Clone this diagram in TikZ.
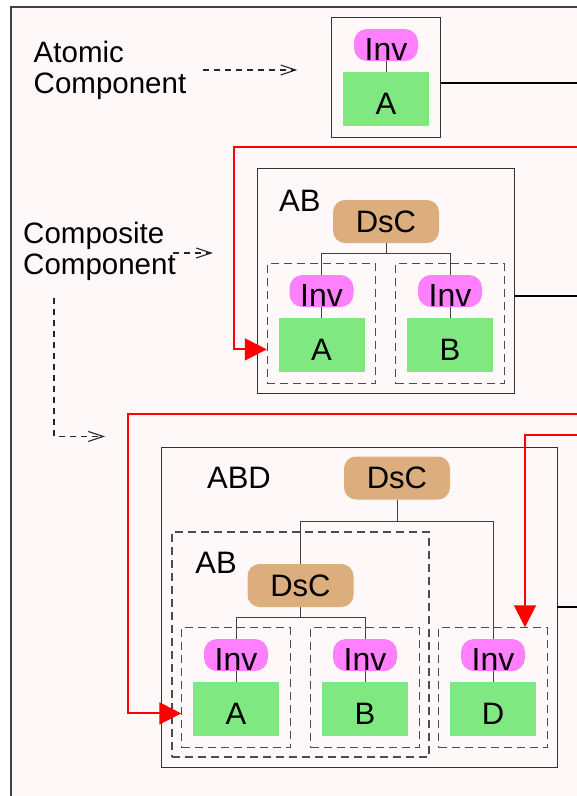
\documentclass[tikz,border=0pt]{standalone}
\usepackage{fontspec}
\setmainfont{Liberation Sans}
\usetikzlibrary{arrows.meta, positioning, fit}
\usepackage{xcolor}
\definecolor{frameBg}{HTML}{FFF8F8}
\definecolor{invPink}{HTML}{FF80FF}
\definecolor{dscTan}{HTML}{DDAE7D}
\definecolor{atomGreen}{HTML}{80E880}
\definecolor{feedRed}{HTML}{FF0000}
\tikzset{
    canvasframe/.style={draw=black!75, line width=2.5pt, fill=frameBg},
    compbox/.style={rectangle, draw=black!80, line width=0.9pt, inner sep=0pt},
    groupbox/.style={rectangle, draw=black!70, line width=1.1pt, dash pattern=on 8pt off 5pt, inner sep=11pt},
    invpill/.style={rectangle, rounded corners=13pt, fill=invPink, minimum width=64pt, minimum height=32pt, inner sep=0pt, font=\fontsize{32}{34}\selectfont, text height=30pt, text depth=0pt},
    atom/.style={rectangle, fill=atomGreen, minimum width=86pt, minimum height=54pt, inner sep=0pt, font=\fontsize{31}{34}\selectfont, text height=30pt, text depth=0pt},
    dscpill/.style={rectangle, rounded corners=12pt, fill=dscTan, minimum width=106pt, minimum height=43pt, inner sep=0pt, font=\fontsize{31}{34}\selectfont},
    tag/.style={inner sep=0pt, font=\fontsize{31}{34}\selectfont},
    notetxt/.style={inner sep=0pt, align=left, font=\fontsize{29.5}{31}\selectfont},
    stem/.style={draw=black!75, line width=1pt},
    bus/.style={draw=black, line width=1.5pt},
    notearrow/.style={-{Straight Barb[length=15pt, width=10pt]}, draw=black!85, line width=1.1pt, dash pattern=on 6pt off 5pt},
    feed/.style={-{Triangle[length=22pt, width=22pt]}, draw=feedRed, line width=2pt},
}
\begin{document}
\begin{tikzpicture}[x=1pt, y=-1pt, node distance=11pt]
    \useasboundingbox (0,0) rectangle (577,796);
    \clip (0,0) rectangle (577,796);
    \draw[canvasframe] (11,7) rectangle (640,860);

    % Atomic component
    \node[notetxt] (atomicTxt) at (110,70) {Atomic\\Component};
    \node[invpill] (inv0) at (386,45) {Inv};
    \node[atom, below=of inv0] (atom0) {A};
    \node[compbox, fit=(inv0)(atom0), inner sep=11pt] (atomBox) {};
    \draw[stem] (inv0) -- (atom0);

    % Composite component AB
    \node[notetxt] (compTxt) at (99.5,251) {Composite\\Component};
    \node[compbox, minimum width=257pt, minimum height=225pt] (compBox) at (385.5,280.5) {};
    \node[tag, anchor=west] (abLbl1) at (279,200.5) {AB};
    \node[dscpill] (dsc1) at (386,221.5) {DsC};
    \node[invpill] (inv1a) at (321.5,291) {Inv};
    \node[invpill] (inv1b) at (450,291) {Inv};
    \node[atom, below=of inv1a] (atom1a) {A};
    \node[atom, below=of inv1b] (atom1b) {B};
    \node[groupbox, fit=(inv1a)(atom1a)] (grp1a) {};
    \node[groupbox, fit=(inv1b)(atom1b)] (grp1b) {};
    \draw[stem] (inv1a) -- (atom1a);
    \draw[stem] (inv1b) -- (atom1b);
    \draw[stem] (dsc1.south) -- ++(0,10) coordinate (fork1);
    \draw[stem] (inv1a.north) |- (fork1) -| (inv1b.north);

    % Composite component ABD
    \node[compbox, minimum width=396pt, minimum height=320pt] (abdBox) at (359,607) {};
    \node[tag] (abdLbl) at (239,477.5) {ABD};
    \node[dscpill] (dsc2) at (397,478) {DsC};
    \node[groupbox, inner sep=0pt, minimum width=257pt, minimum height=225pt] (grp2ab) at (300.5,644.5) {};
    \node[tag] (abLbl2) at (216,563) {AB};
    \node[dscpill] (dsc3) at (300.5,585.5) {DsC};
    \node[invpill] (inv2a) at (236,655) {Inv};
    \node[invpill] (inv2b) at (365,655) {Inv};
    \node[invpill] (inv2d) at (493,655) {Inv};
    \node[atom, below=of inv2a] (atom2a) {A};
    \node[atom, below=of inv2b] (atom2b) {B};
    \node[atom, below=of inv2d] (atom2d) {D};
    \node[groupbox, fit=(inv2a)(atom2a)] (grp2a) {};
    \node[groupbox, fit=(inv2b)(atom2b)] (grp2b) {};
    \node[groupbox, fit=(inv2d)(atom2d)] (grp2d) {};
    \draw[stem] (inv2a) -- (atom2a);
    \draw[stem] (inv2b) -- (atom2b);
    \draw[stem] (inv2d) -- (atom2d);
    \draw[stem] (dsc2.south) -- ++(0,22) coordinate (fork2);
    \draw[stem] (dsc3.north) |- (fork2) -| (inv2d.north);
    \draw[stem] (dsc3.south) -- ++(0,10) coordinate (fork3);
    \draw[stem] (inv2a.north) |- (fork3) -| (inv2b.north);

    % Outgoing lines
    \coordinate (busOut0) at (600,83);
    \coordinate (busOut1) at (600,296);
    \coordinate (busOut2) at (600,607);
    \draw[bus] (atomBox.east |- busOut0) -- (busOut0);
    \draw[bus] (compBox.east |- busOut1) -- (busOut1);
    \draw[bus] (abdBox.east |- busOut2) -- (busOut2);

    % Incoming red lines
    \coordinate (feedIn1) at (600,147);
    \coordinate (feedIn2) at (600,414);
    \coordinate (feedIn3) at (600,435);
    \draw[feed] (feedIn1) -| ([xshift=-33pt, yshift=-4pt]grp1a.west |- atom1a) -- ([yshift=-4pt]grp1a.west |- atom1a);
    \draw[feed] (feedIn2) -| ([xshift=-53pt, yshift=-4pt]grp2a.west |- atom2a) -- ([yshift=-4pt]grp2a.west |- atom2a);
    \draw[feed] (feedIn3) -| ([xshift=32pt]grp2d.north);

    % Notes
    \draw[notearrow] ([xshift=17pt]atomicTxt.east) -- ++(94,0);
    \draw[notearrow] ([xshift=-3pt, yshift=-2pt]compTxt.east) -- ++(40,0);
    \draw[notearrow] ([xshift=31pt]compTxt.south west) ++(0,18) -- ++(0,138) -- ++(51,0);
\end{tikzpicture}
\end{document}
